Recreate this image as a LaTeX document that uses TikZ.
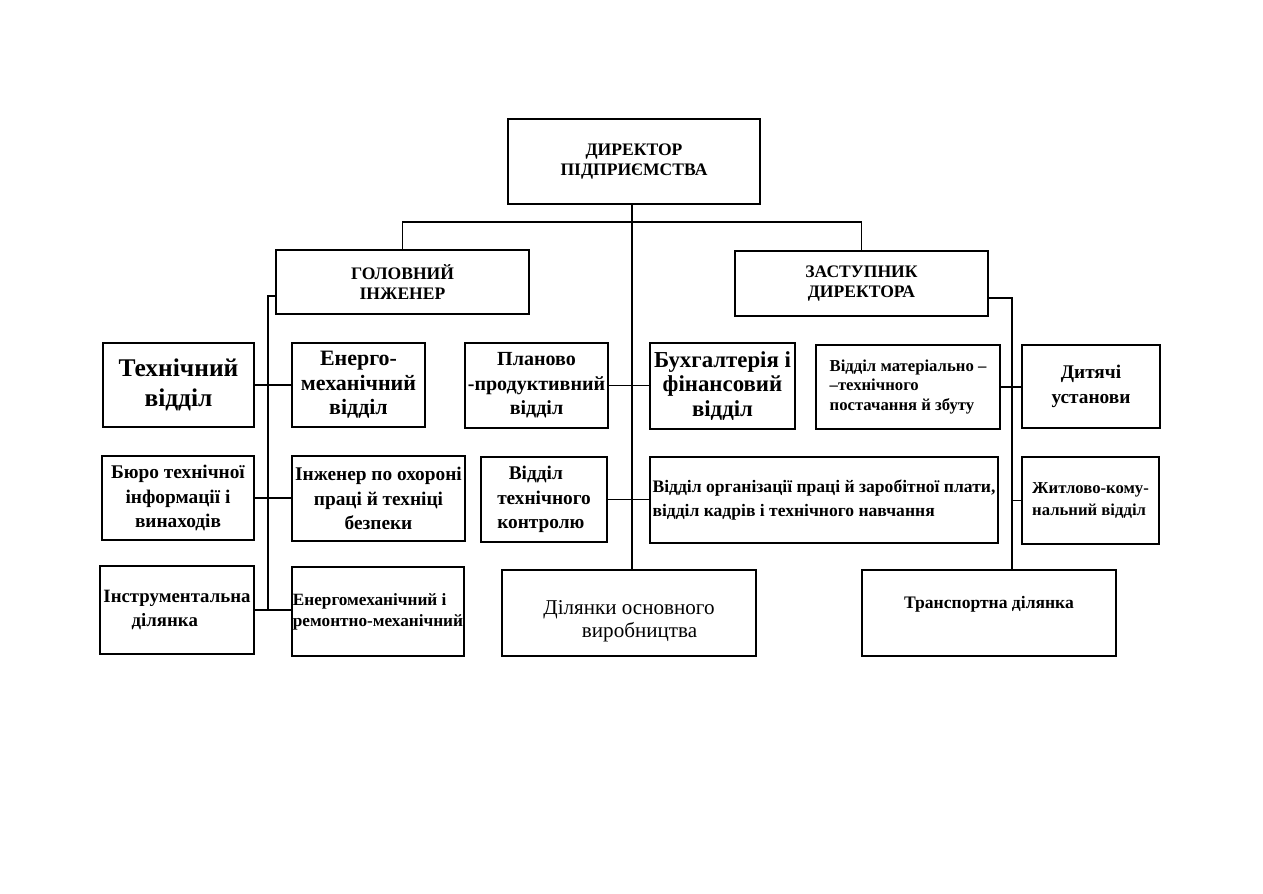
\documentclass[tikz,border=0pt]{standalone}
\usepackage{fontspec}
\setmainfont{Liberation Serif}
\begin{document}
\begin{tikzpicture}[x=0.02cm, y=-0.02cm,
          box/.style={draw, line width=1.6pt, align=center, inner sep=2pt},
          fcap/.style={font=\bfseries\fontsize{10}{11}\selectfont},
          fhuge/.style={font=\bfseries\fontsize{14.5}{17}\selectfont},
          flarge/.style={font=\bfseries\fontsize{12.5}{14}\selectfont},
          fmid/.style={font=\bfseries\fontsize{11}{14}\selectfont},
          fsmall/.style={font=\bfseries\fontsize{10}{12}\selectfont},
          lnk/.style={line width=1pt}]
        \useasboundingbox (0,0) rectangle (1263,893);
        \node[box, fcap, minimum width=5.04cm, minimum height=1.70cm] (dir) at (634,161.5) {ДИРЕКТОР\\ПІДПРИЄМСТВА};
        \node[box, fcap, minimum width=5.06cm, minimum height=1.28cm] (gol) at (402.5,282) {ГОЛОВНИЙ\\ІНЖЕНЕР};
        \node[box, fcap, minimum width=5.06cm, minimum height=1.30cm] (zast) at (861.5,283.5) {ЗАСТУПНИК\\ДИРЕКТОРА};
        \node[box, fhuge, minimum width=3.02cm, minimum height=1.68cm] (tech) at (178.5,385) {Технічний\\відділ};
        \node[box, flarge, minimum width=2.66cm, minimum height=1.68cm] (energo) at (358.5,385) {Енерго-\\механічний\\відділ};
        \node[box, font=\bfseries\fontsize{11.4}{14}\selectfont, minimum width=2.86cm, minimum height=1.70cm, inner sep=0pt] (plan) at (536.5,385.5) {Планово\\-продуктивний\\відділ};
        \node[box, font=\bfseries\fontsize{13}{14}\selectfont, minimum width=2.90cm, minimum height=1.72cm] (buh) at (722.5,386) {Бухгалтерія і\\фінансовий\\відділ};
        \node[box, font=\bfseries\fontsize{9.5}{11.3}\selectfont, align=left, minimum width=3.68cm, minimum height=1.68cm] (mat) at (908,387) {Відділ матеріально --\\--технічного\\постачання й збуту};
        \node[box, fmid, minimum width=2.76cm, minimum height=1.66cm] (dyt) at (1091,386.5) {Дитячі\\установи};
        \node[box, fmid, minimum width=3.04cm, minimum height=1.68cm] (byuro) at (178,498) {Бюро технічної\\інформації і\\винаходів};
        \node[box, fmid, minimum width=3.46cm, minimum height=1.70cm, inner sep=0pt] (ohor) at (378.5,498.5) {Інженер по охороні\\праці й техніці\\безпеки};
        \node[box, fmid, align=left, minimum width=2.52cm, minimum height=1.70cm] (vtk) at (544,499.5) {\hspace{0.6em}Відділ\\технічного\\контролю};
        \node[box, font=\bfseries\fontsize{10}{13.6}\selectfont, align=left, minimum width=6.96cm, minimum height=1.72cm, inner sep=0pt] (org) at (824,500) {Відділ організації праці й заробітної плати,\\відділ кадрів і технічного навчання};
        \node[box, font=\bfseries\fontsize{9.5}{12.5}\selectfont, align=left, minimum width=2.74cm, minimum height=1.74cm] (zhytl) at (1090.5,500.5) {Житлово-кому-\\нальний відділ};
        \node[box, font=\bfseries\fontsize{10.7}{14}\selectfont, align=left, minimum width=3.08cm, minimum height=1.76cm, inner sep=0pt] (instr) at (177,610) {Інструментальна\\\hspace{1.5em}ділянка};
        \node[box, font=\bfseries\fontsize{9.8}{12}\selectfont, align=left, minimum width=3.44cm, minimum height=1.78cm, inner sep=0pt] (remont) at (378,611.5) {Енергомеханічний  і\\ремонтно-механічний};
        \node[box, font=\fontsize{12}{13}\selectfont, minimum width=5.08cm, minimum height=1.72cm] (dil) at (629,613) {\mbox{}\\[4pt]Ділянки основного\\\hspace{1em}виробництва};
        \node[box, fsmall, minimum width=5.08cm, minimum height=1.72cm] (transp) at (989,613) {Транспортна ділянка\\\mbox{}};
        \coordinate (split) at (632,222);
        \coordinate (lbus) at (268,296);
        \coordinate (rbus) at (1012,298);
        \draw[lnk] (dir.south -| split) -- (dil.north -| split);
        \draw[lnk] (gol.north) |- (split) -| (zast.north);
        \draw[lnk] (gol.west |- lbus) -- (lbus) -- (lbus |- instr.east);
        \draw[lnk] (zast.east |- rbus) -- (rbus) -- (rbus |- transp.north);
        \draw[lnk] (tech.east) -- (tech.east -| energo.west);
        \draw[lnk] (byuro.east) -- (byuro.east -| ohor.west);
        \draw[lnk] (instr.east) -- (instr.east -| remont.west);
        \draw[lnk] (plan.east) -- (plan.east -| buh.west);
        \draw[lnk] (vtk.east) -- (vtk.east -| org.west);
        \draw[lnk] (mat.east) -- (mat.east -| dyt.west);
        \draw[lnk] (rbus |- zhytl.west) -- (zhytl.west);
      \end{tikzpicture}
\end{document}
